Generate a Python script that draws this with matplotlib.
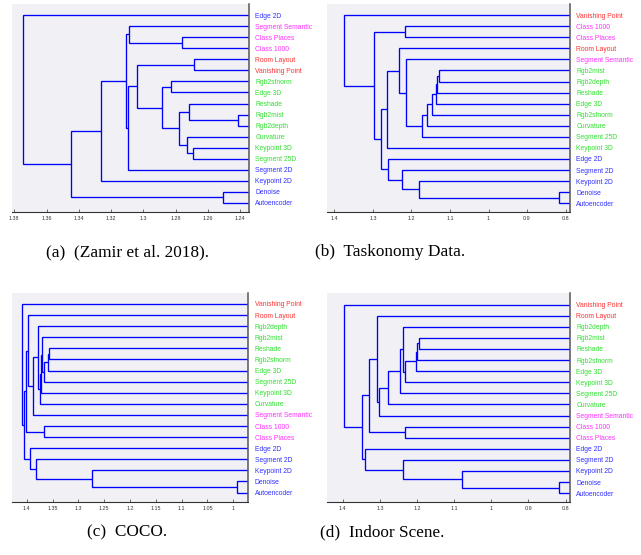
import matplotlib
matplotlib.use('Agg')
import matplotlib.pyplot as plt

W, H = 641, 555
fig = plt.figure(figsize=(W / 100, H / 100), dpi=100)

# ---------------- data ----------------
blue_tasks = ['Edge 2D', 'Segment 2D', 'Keypoint 2D', 'Denoise', 'Autoencoder']
magenta_tasks = ['Segment Semantic', 'Class Places', 'Class 1000']
red_tasks = ['Room Layout', 'Vanishing Point']
green_tasks = ['Rgb2sfnorm', 'Edge 3D', 'Reshade', 'Rgb2mist', 'Rgb2depth',
               'Curvature', 'Keypoint 3D', 'Segment 25D']

# merges: (upper child, lower child, merge distance); ints refer to earlier merges
merges_a = [
    ('Class Places', 'Class 1000', 1.2764),
    ('Segment Semantic', 0, 1.3092),
    ('Room Layout', 'Vanishing Point', 1.2686),
    ('Rgb2sfnorm', 'Edge 3D', 1.2832),
    ('Rgb2mist', 'Rgb2depth', 1.2413),
    ('Reshade', 4, 1.2717),
    ('Keypoint 3D', 'Segment 25D', 1.2692),
    ('Curvature', 6, 1.2729),
    (5, 7, 1.2780),
    (3, 8, 1.2884),
    (2, 9, 1.3042),
    (10, 'Segment 2D', 1.3096),
    (1, 11, 1.3109),
    (12, 'Keypoint 2D', 1.3265),
    ('Denoise', 'Autoencoder', 1.2510),
    (13, 14, 1.3447),
    ('Edge 2D', 15, 1.3744),
]

merges_b = [
    ('Class 1000', 'Class Places', 1.2175),
    ('Rgb2mist', 'Rgb2depth', 1.1284),
    (1, 'Reshade', 1.1345),
    (2, 'Edge 3D', 1.1375),
    (3, 'Rgb2sfnorm', 1.1458),
    (4, 'Curvature', 1.1605),
    (5, 'Segment 25D', 1.1735),
    ('Segment Semantic', 6, 1.2150),
    ('Room Layout', 7, 1.2330),
    (8, 'Keypoint 3D', 1.2643),
    ('Denoise', 'Autoencoder', 0.8164),
    ('Keypoint 2D', 10, 1.1795),
    ('Segment 2D', 11, 1.2254),
    ('Edge 2D', 12, 1.2617),
    (9, 13, 1.2795),
    (0, 14, 1.2965),
    ('Vanishing Point', 15, 1.3749),
]

merges_c = [
    ('Reshade', 'Rgb2sfnorm', 1.3561),
    (0, 'Edge 3D', 1.3581),
    (1, 'Segment 25D', 1.3658),
    ('Rgb2mist', 2, 1.3697),
    (3, 'Keypoint 3D', 1.3723),
    (4, 'Curvature', 1.3742),
    ('Rgb2depth', 5, 1.3774),
    (6, 'Segment Semantic', 1.3871),
    ('Room Layout', 7, 1.3968),
    ('Class 1000', 'Class Places', 1.3658),
    (8, 9, 1.4005),
    ('Denoise', 'Autoencoder', 0.9923),
    ('Keypoint 2D', 11, 1.2736),
    ('Segment 2D', 12, 1.3819),
    ('Edge 2D', 13, 1.3935),
    (10, 14, 1.4052),
    ('Vanishing Point', 15, 1.4090),
]

merges_d = [
    ('Rgb2mist', 'Reshade', 1.1937),
    (0, 'Rgb2sfnorm', 1.1990),
    (1, 'Edge 3D', 1.2027),
    (2, 'Keypoint 3D', 1.2314),
    ('Rgb2depth', 3, 1.2377),
    (4, 'Segment 25D', 1.2448),
    (5, 'Curvature', 1.2780),
    (6, 'Segment Semantic', 1.3013),
    ('Room Layout', 7, 1.3067),
    ('Class 1000', 'Class Places', 1.2314),
    (8, 9, 1.3282),
    ('Denoise', 'Autoencoder', 0.8170),
    ('Keypoint 2D', 11, 1.0798),
    ('Segment 2D', 12, 1.2368),
    ('Edge 2D', 13, 1.3390),
    (10, 14, 1.3489),
    ('Vanishing Point', 15, 1.3955),
]

ticks_a = [1.38, 1.36, 1.34, 1.32, 1.30, 1.28, 1.26, 1.24]
ticklabels_a = ['1.38', '1.36', '1.34', '1.32', '1.3', '1.28', '1.26', '1.24']
ticks_b = [1.4, 1.3, 1.2, 1.1, 1.0, 0.9, 0.8]
ticklabels_b = ['1.4', '1.3', '1.2', '1.1', '1', '0.9', '0.8']
ticks_c = [1.4, 1.35, 1.3, 1.25, 1.2, 1.15, 1.1, 1.05, 1.0]
ticklabels_c = ['1.4', '1.35', '1.3', '1.25', '1.2', '1.15', '1.1', '1.05', '1']
ticks_d = ticks_b
ticklabels_d = ticklabels_b

captions = ['(a)  (Zamir et al. 2018).', '(b)  Taskonomy Data.',
            '(c)  COCO.', '(d)  Indoor Scene.']

# ---------------- style ----------------
color_of = {}
for n in blue_tasks:
    color_of[n] = '#3030ff'
for n in magenta_tasks:
    color_of[n] = '#ff30ff'
for n in red_tasks:
    color_of[n] = '#ff3030'
for n in green_tasks:
    color_of[n] = '#30e030'

LINE = '#0000ff'
FACE = '#f0f0f5'


def add_ax(l, r, t, b):
    return fig.add_axes([l / W, 1 - b / H, (r - l) / W, (b - t) / H])


def leaf_order(merges, node):
    if isinstance(node, str):
        return [node]
    a, b, _ = merges[node]
    return leaf_order(merges, a) + leaf_order(merges, b)


def draw(ax, merges, xlim, ticks, ticklabels):
    order = leaf_order(merges, len(merges) - 1)
    pos = {name: (0.0, i + 1) for i, name in enumerate(order)}
    for k, (a, b, h) in enumerate(merges):
        xa, ya = pos[a]
        xb, yb = pos[b]
        ax.plot([xa, h, h, xb], [ya, ya, yb, yb], color=LINE, lw=0.95,
                solid_joinstyle='miter', solid_capstyle='butt')
        pos[k] = (h, (ya + yb) / 2)
    ax.set_facecolor(FACE)
    ax.set_xlim(*xlim)
    ax.set_ylim(len(order) + 0.82, -0.01)
    ax.set_xticks(ticks)
    ax.set_xticklabels(ticklabels, fontsize=3.9, color='#333333',
                       family='Liberation Sans')
    ax.tick_params(axis='x', direction='in', length=2.0, width=0.5,
                   color='#333333', pad=3)
    ax.yaxis.tick_right()
    ax.set_yticks(range(1, len(order) + 1))
    ax.set_yticklabels(order, fontsize=4.85, family='Liberation Sans')
    for lbl, name in zip(ax.get_yticklabels(), order):
        lbl.set_color(color_of[name])
    ax.tick_params(axis='y', length=0, pad=4.5)
    for s in ['top', 'left']:
        ax.spines[s].set_visible(False)
    ax.spines['right'].set_color('#555555')
    ax.spines['right'].set_linewidth(1.1)
    ax.spines['bottom'].set_color('#333333')
    ax.spines['bottom'].set_linewidth(0.8)


ax_a = add_ax(12, 249, 4, 212)
ax_b = add_ax(326.7, 570, 4, 212.3)
ax_c = add_ax(11.7, 248.3, 292.7, 501.7)
ax_d = add_ax(327.3, 570, 293.3, 502.3)

draw(ax_a, merges_a, (1.3814, 1.2346), ticks_a, ticklabels_a)
draw(ax_b, merges_b, (1.4199, 0.7885), ticks_b, ticklabels_b)
draw(ax_c, merges_c, (1.4290, 0.9710), ticks_c, ticklabels_c)
draw(ax_d, merges_d, (1.4413, 0.7883), ticks_d, ticklabels_d)

cap_pos = [(127.5, 252.5), (390, 252.5), (127, 532.5), (381.7, 532.5)]
for txt, (cx, cy) in zip(captions, cap_pos):
    fig.text(cx / W, 1 - cy / H, txt, ha='center', va='center',
             fontsize=12.4, family='Liberation Serif', color='black')

fig.savefig('out.png', dpi=100)
